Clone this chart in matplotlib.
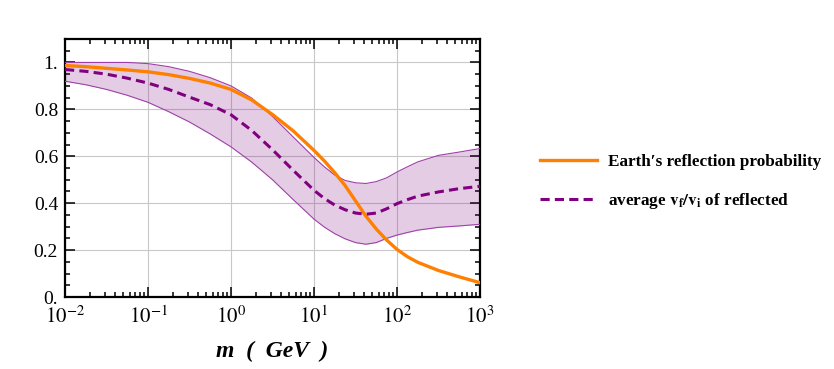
import matplotlib

matplotlib.use("Agg")
import matplotlib.pyplot as plt
from matplotlib.ticker import FixedLocator, FuncFormatter, LogLocator, NullFormatter
import numpy as np

plt.rcParams["font.family"] = ["Liberation Serif", "DejaVu Serif"]
plt.rcParams["mathtext.fontset"] = "stix"

# log10 of mass in GeV
log_m = [-2, -1.75, -1.5, -1.25, -1, -0.75, -0.5, -0.25, 0, 0.25, 0.5, 0.75,
         1, 1.125, 1.25, 1.375, 1.5, 1.625, 1.75, 1.875, 2, 2.125, 2.25,
         2.5, 2.75, 3]
reflection_prob = [0.987, 0.982, 0.975, 0.968, 0.96, 0.948, 0.932, 0.912,
                   0.885, 0.84, 0.778, 0.708, 0.625, 0.58, 0.53, 0.475, 0.41,
                   0.345, 0.29, 0.243, 0.203, 0.172, 0.148, 0.113, 0.086,
                   0.061]
vratio_mean = [0.97, 0.962, 0.95, 0.933, 0.912, 0.885, 0.852, 0.82, 0.777,
               0.71, 0.628, 0.54, 0.455, 0.42, 0.392, 0.372, 0.358, 0.353,
               0.358, 0.376, 0.398, 0.415, 0.43, 0.448, 0.462, 0.472]
vratio_upper = [1.0, 1.0, 1.0, 1.0, 0.995, 0.982, 0.962, 0.935, 0.90, 0.848,
                0.77, 0.682, 0.595, 0.555, 0.52, 0.497, 0.487, 0.484, 0.492,
                0.508, 0.533, 0.555, 0.576, 0.604, 0.618, 0.633]
vratio_lower = [0.92, 0.905, 0.885, 0.86, 0.83, 0.79, 0.746, 0.695, 0.64,
                0.575, 0.50, 0.415, 0.332, 0.298, 0.27, 0.248, 0.232, 0.225,
                0.232, 0.25, 0.264, 0.275, 0.285, 0.297, 0.303, 0.31]

labels = ["Earth\u2032s reflection probability",
          r"average $\mathbf{v}_\mathbf{f}\mathbf{/v}_\mathbf{i}$ of reflected"]

orange = (1.0, 0.5, 0.0)
purple = (0.5, 0.0, 0.5)

m = 10.0 ** np.asarray(log_m)

fig = plt.figure(figsize=(8.34, 3.69), dpi=100)
ax = fig.add_axes([0.078, 0.1951, 0.4975, 0.6992])

ax.fill_between(m, vratio_lower, vratio_upper, color=purple, alpha=0.2,
                linewidth=0, zorder=2)
ax.plot(m, vratio_upper, color=(0.62, 0.25, 0.66), lw=0.8, zorder=3)
ax.plot(m, vratio_lower, color=(0.62, 0.25, 0.66), lw=0.8, zorder=3)
ax.plot(m, reflection_prob, color=orange, lw=2.4, zorder=4, label=labels[0],
        solid_joinstyle="round")
ax.plot(m, vratio_mean, color=purple, lw=2.2, dashes=(3.0, 1.7), zorder=5,
        label=labels[1])

ax.set_xscale("log")
ax.set_xlim(1e-2, 1e3)
ax.set_ylim(0, 1.1)

ax.xaxis.set_major_locator(LogLocator(base=10, numticks=10))
ax.xaxis.set_minor_locator(LogLocator(base=10, subs=np.arange(2, 10), numticks=20))
ax.xaxis.set_minor_formatter(NullFormatter())
ax.xaxis.set_major_formatter(
    FuncFormatter(lambda v, _: r"$10^{%d}$" % int(round(np.log10(v))))
)
ax.yaxis.set_major_locator(FixedLocator([0, 0.2, 0.4, 0.6, 0.8, 1.0]))
ax.yaxis.set_minor_locator(FixedLocator(np.arange(0, 1.1, 0.05)))
ax.yaxis.set_major_formatter(
    FuncFormatter(lambda v, _: "0." if v == 0 else ("1." if abs(v - 1) < 1e-9 else f"{v:.1f}"))
)

ax.tick_params(which="both", direction="in", top=True, right=True,
               width=1.1, labelsize=14)
ax.tick_params(which="major", length=7)
ax.tick_params(which="minor", length=3.5)
ax.tick_params(axis="x", pad=7, labelsize=15)
ax.tick_params(axis="y", pad=5)
for spine in ax.spines.values():
    spine.set_linewidth(1.6)

ax.grid(True, which="major", color="#c8c8c8", lw=0.8, zorder=1)
ax.set_axisbelow(True)

ax.set_xlabel("m  (  GeV  )", fontsize=17, fontweight="bold", fontstyle="italic",
              labelpad=9)

fig.legend(loc="center left", bbox_to_anchor=(0.6475, 0.5054), frameon=False,
           borderpad=0, borderaxespad=0, handlelength=3.35, handletextpad=0.64,
           labelspacing=1.28, prop={"size": 12.3, "weight": "bold"})

fig.savefig("out.png", dpi=100)
